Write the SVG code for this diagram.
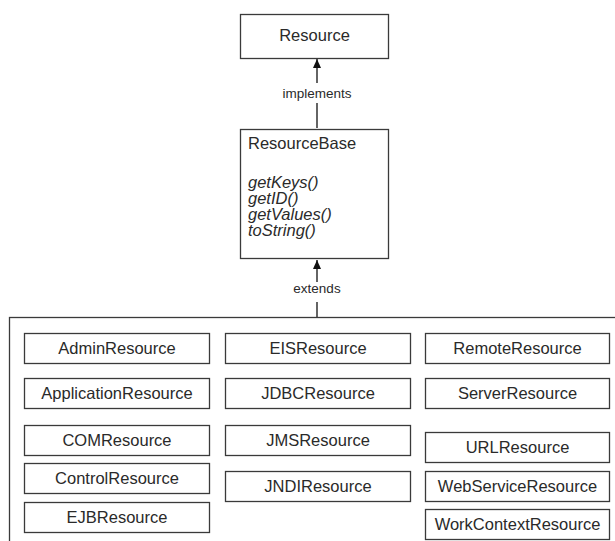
<svg xmlns="http://www.w3.org/2000/svg" width="615" height="541" viewBox="0 0 615 541">
<defs>
<marker id="arr" markerWidth="10" markerHeight="10" refX="9" refY="4" orient="auto" markerUnits="userSpaceOnUse">
<path d="M0,0 L9,4 L0,8 Z" fill="#111"/>
</marker>
</defs>
<style>
.box{fill:#fff;stroke:#3a3a3a;stroke-width:1.3}
.t{font-family:"Liberation Sans",Arial,sans-serif;font-size:16.5px;fill:#2a2a2a}
.c{text-anchor:middle}
.i{font-style:italic}
.lbl{font-family:"Liberation Sans",Arial,sans-serif;font-size:13.5px;fill:#2a2a2a;text-anchor:middle}
.ln{stroke:#111;stroke-width:1.3;fill:none}
</style>
<rect width="615" height="541" fill="#fff"/>
<g id="connectors">
<line class="ln" x1="317" y1="128" x2="317" y2="103"/>
<line class="ln" x1="317" y1="83" x2="317" y2="59" marker-end="url(#arr)"/>
<text class="lbl" x="317" y="98">implements</text>
<line class="ln" x1="317" y1="317" x2="317" y2="302"/>
<line class="ln" x1="317" y1="282" x2="317" y2="260" marker-end="url(#arr)"/>
<text class="lbl" x="317" y="293">extends</text>
</g>
<g id="resource">
<rect class="box" x="240.5" y="14.5" width="148" height="44"/>
<text class="t c" x="314.5" y="41">Resource</text>
</g>
<g id="resourcebase">
<rect class="box" x="240.5" y="129.5" width="148" height="129"/>
<text class="t" x="248" y="149">ResourceBase</text>
<text class="t i" x="248" y="188">getKeys()</text>
<text class="t i" x="248" y="204">getID()</text>
<text class="t i" x="248" y="220">getValues()</text>
<text class="t i" x="248" y="236">toString()</text>
</g>
<g id="group">
<rect class="box" x="9.5" y="317.5" width="700" height="300"/>
</g>
<g id="AdminResource"><rect class="box" x="24.5" y="333.5" width="185" height="30"/><text class="t c" x="117" y="354">AdminResource</text></g>
<g id="ApplicationResource"><rect class="box" x="24.5" y="378.5" width="185" height="30"/><text class="t c" x="117" y="399">ApplicationResource</text></g>
<g id="COMResource"><rect class="box" x="24.5" y="425.5" width="185" height="30"/><text class="t c" x="117" y="446">COMResource</text></g>
<g id="ControlResource"><rect class="box" x="24.5" y="463.5" width="185" height="30"/><text class="t c" x="117" y="484">ControlResource</text></g>
<g id="EJBResource"><rect class="box" x="24.5" y="502.5" width="185" height="30"/><text class="t c" x="117" y="523">EJBResource</text></g>
<g id="EISResource"><rect class="box" x="225.5" y="333.5" width="185" height="30"/><text class="t c" x="318" y="354">EISResource</text></g>
<g id="JDBCResource"><rect class="box" x="225.5" y="378.5" width="185" height="30"/><text class="t c" x="318" y="399">JDBCResource</text></g>
<g id="JMSResource"><rect class="box" x="225.5" y="425.5" width="185" height="30"/><text class="t c" x="318" y="446">JMSResource</text></g>
<g id="JNDIResource"><rect class="box" x="225.5" y="471.5" width="185" height="30"/><text class="t c" x="318" y="492">JNDIResource</text></g>
<g id="RemoteResource"><rect class="box" x="425.5" y="333.5" width="184" height="30"/><text class="t c" x="517.5" y="354">RemoteResource</text></g>
<g id="ServerResource"><rect class="box" x="425.5" y="378.5" width="184" height="30"/><text class="t c" x="517.5" y="399">ServerResource</text></g>
<g id="URLResource"><rect class="box" x="425.5" y="432.5" width="184" height="30"/><text class="t c" x="517.5" y="453">URLResource</text></g>
<g id="WebServiceResource"><rect class="box" x="425.5" y="471.5" width="184" height="30"/><text class="t c" x="517.5" y="492">WebServiceResource</text></g>
<g id="WorkContextResource"><rect class="box" x="425.5" y="509.5" width="184" height="30"/><text class="t c" x="517.5" y="530">WorkContextResource</text></g>
</svg>
